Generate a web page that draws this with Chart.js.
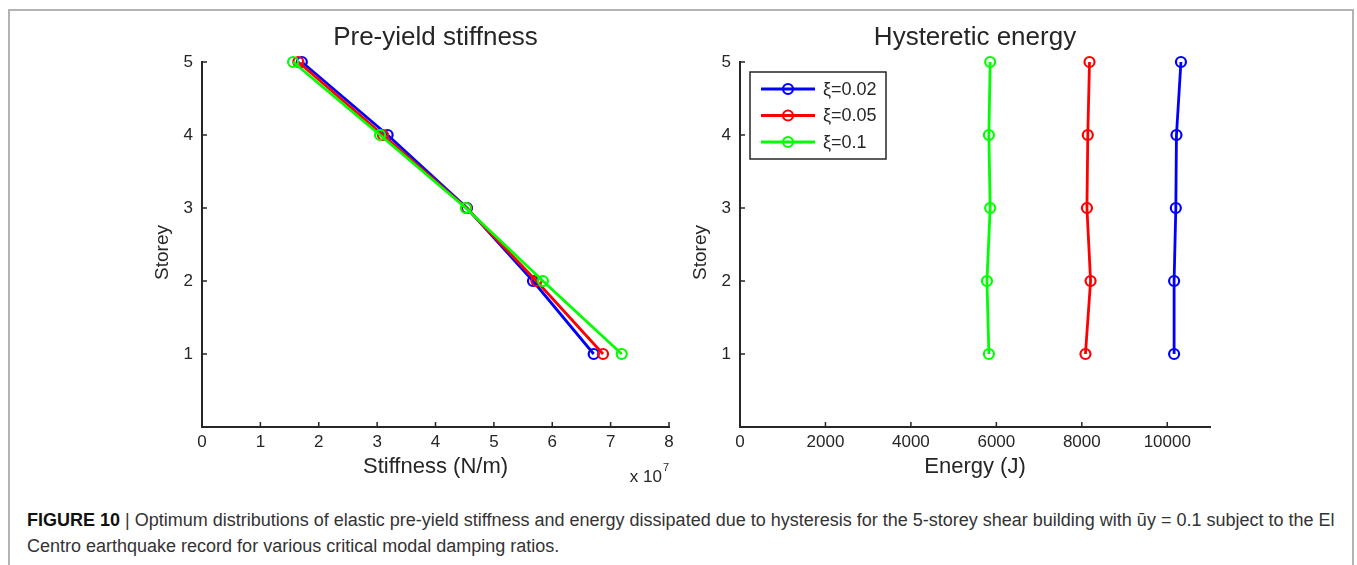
<!DOCTYPE html>
<html>
<head>
<meta charset="utf-8">
<script src="https://cdn.jsdelivr.net/npm/chart.js@4.4.1/dist/chart.umd.min.js"></script>
<style>
  html, body { margin: 0; padding: 0; background: #fff; }
  body { width: 1357px; height: 565px; position: relative; overflow: hidden; font-family: 'Liberation Sans', Arial, sans-serif; }
  .frame { position: absolute; left: 8px; top: 9px; width: 1346px; height: 600px; border: 2px solid #b3b3b3; box-sizing: border-box; }
  #left { position: absolute; left: 0; top: 0; }
  #right { position: absolute; left: 690px; top: 0; }
  .caption { position: absolute; left: 27px; top: 507px; font-size: 18px; line-height: 26px; color: #333; white-space: nowrap; }
  .caption b { color: #111; }
</style>
</head>
<body>
<div class="frame"></div>
<canvas id="left" width="690" height="500"></canvas>
<canvas id="right" width="667" height="500"></canvas>
<div class="caption"><b>FIGURE 10</b> | Optimum distributions of elastic pre-yield stiffness and energy dissipated due to hysteresis for the 5-storey shear building with ūy = 0.1 subject to the El<br>Centro earthquake record for various critical modal damping ratios.</div>

<script>
// storey numbers (y values for every series)
const storeys = [1, 2, 3, 4, 5];
const seriesLabels = ['ξ=0.02', 'ξ=0.05', 'ξ=0.1'];

// pre-yield stiffness, in units of 10^7 N/m
const stiffness002 = [6.71, 5.67, 4.54, 3.18, 1.71];
const stiffness005 = [6.87, 5.73, 4.53, 3.10, 1.65];
const stiffness010 = [7.19, 5.84, 4.52, 3.05, 1.56];

// hysteretic energy, J
const energy002 = [10160, 10160, 10200, 10215, 10320];
const energy005 = [8085, 8205, 8120, 8140, 8180];
const energy010 = [5825, 5780, 5855, 5825, 5855];

// tick labels
const storeyTicks = [1, 2, 3, 4, 5];
const stiffnessTicks = [0, 1, 2, 3, 4, 5, 6, 7, 8];
const energyTicks = [0, 2000, 4000, 6000, 8000, 10000];

const lineColors = ['#0000ff', '#ff0000', '#00ff00'];
const ink = '#262626';
const fontFamily = "'Liberation Sans', Arial, sans-serif";

Chart.defaults.font.family = fontFamily;
Chart.defaults.color = ink;

function makeDatasets(seriesList) {
  return seriesList.map((values, i) => ({
    label: seriesLabels[i],
    data: values.map((v, j) => ({ x: v, y: storeys[j] })),
    showLine: true,
    borderColor: lineColors[i],
    borderWidth: 2.8,
    pointRadius: 5,
    pointHoverRadius: 5,
    pointBorderWidth: 2.2,
    pointBackgroundColor: 'rgba(255,255,255,0)',
    pointBorderColor: lineColors[i],
    clip: false,
    order: 3 - i,
  }));
}

// matlab-ish decorations: inward ticks, title, axis labels, legend
const matlabAxes = {
  id: 'matlabAxes',
  afterDraw(chart, args, opts) {
    const { ctx, chartArea: a, scales } = chart;
    const x = scales.x;
    const y = scales.y;
    ctx.save();
    ctx.strokeStyle = ink;
    ctx.lineWidth = 1.5;
    ctx.beginPath();
    x.ticks.forEach((t) => {
      const px = x.getPixelForValue(t.value);
      ctx.moveTo(px, a.bottom);
      ctx.lineTo(px, a.bottom - 5);
    });
    y.ticks.forEach((t) => {
      const py = y.getPixelForValue(t.value);
      ctx.moveTo(a.left, py);
      ctx.lineTo(a.left + 5, py);
    });
    ctx.stroke();

    ctx.fillStyle = ink;
    ctx.textAlign = 'center';
    ctx.textBaseline = 'middle';
    const cx = (a.left + a.right) / 2;

    ctx.font = '26px ' + fontFamily;
    ctx.fillText(opts.title, cx, 38);

    ctx.font = '22px ' + fontFamily;
    ctx.fillText(opts.xLabel, cx, 467);

    ctx.save();
    ctx.font = '19px ' + fontFamily;
    ctx.translate(a.left - 39, (a.top + a.bottom) / 2 + 8);
    ctx.rotate(-Math.PI / 2);
    ctx.fillText(opts.yLabel, 0, 0);
    ctx.restore();

    if (opts.exponent) {
      ctx.font = '17px ' + fontFamily;
      ctx.textAlign = 'right';
      ctx.fillText('x 10', a.right - 7, 477);
      ctx.font = '11px ' + fontFamily;
      ctx.textAlign = 'left';
      ctx.fillText(opts.exponent, a.right - 6, 468);
    }

    if (opts.legend) {
      const bx = a.left + 10;
      const by = a.top + 10;
      ctx.fillStyle = '#fff';
      ctx.fillRect(bx, by, 136, 87);
      ctx.strokeStyle = ink;
      ctx.lineWidth = 1.5;
      ctx.strokeRect(bx, by, 136, 87);
      chart.data.datasets.forEach((ds, i) => {
        const ry = by + 17 + i * 26.5;
        ctx.strokeStyle = ds.borderColor;
        ctx.lineWidth = 2.8;
        ctx.beginPath();
        ctx.moveTo(bx + 11, ry);
        ctx.lineTo(bx + 65, ry);
        ctx.stroke();
        ctx.lineWidth = 2.2;
        ctx.beginPath();
        ctx.arc(bx + 38, ry, 5, 0, Math.PI * 2);
        ctx.stroke();
        ctx.fillStyle = ink;
        ctx.font = '18px ' + fontFamily;
        ctx.textAlign = 'left';
        ctx.fillText(ds.label, bx + 73, ry + 1);
      });
    }
    ctx.restore();
  },
};

function makeChart(canvasId, seriesList, xMin, xMax, xTicks, yWidth, padRight, deco) {
  return new Chart(document.getElementById(canvasId), {
    type: 'scatter',
    data: { datasets: makeDatasets(seriesList) },
    options: {
      responsive: false,
      animation: false,
      events: [],
      layout: { padding: { left: 0, top: 62, right: padRight, bottom: 0 } },
      scales: {
        x: {
          type: 'linear',
          min: xMin,
          max: xMax,
          grid: { display: false, drawTicks: false },
          border: { display: true, color: ink, width: 2 },
          ticks: {
            padding: 5,
            font: { size: 17 },
            maxRotation: 0,
            autoSkip: false,
            callback: (value) => String(value),
          },
          afterBuildTicks: (s) => { s.ticks = xTicks.map((v) => ({ value: v })); },
          afterFit: (s) => { s.height = 73; },
        },
        y: {
          type: 'linear',
          min: 0,
          max: 5,
          grid: { display: false, drawTicks: false },
          border: { display: true, color: ink, width: 2 },
          ticks: { padding: 9, font: { size: 17 } },
          afterBuildTicks: (s) => { s.ticks = storeyTicks.map((v) => ({ value: v })); },
          afterFit: (s) => { s.width = yWidth; },
        },
      },
      plugins: {
        legend: { display: false },
        tooltip: { enabled: false },
        matlabAxes: deco,
      },
    },
    plugins: [matlabAxes],
  });
}

makeChart('left', [stiffness002, stiffness005, stiffness010], 0, 8, stiffnessTicks, 202, 21, {
  title: 'Pre-yield stiffness',
  xLabel: 'Stiffness (N/m)',
  yLabel: 'Storey',
  exponent: '7',
  legend: false,
});

makeChart('right', [energy002, energy005, energy010], 0, 11000, energyTicks, 50, 147, {
  title: 'Hysteretic energy',
  xLabel: 'Energy (J)',
  yLabel: 'Storey',
  exponent: '',
  legend: true,
});
</script>
</body>
</html>
